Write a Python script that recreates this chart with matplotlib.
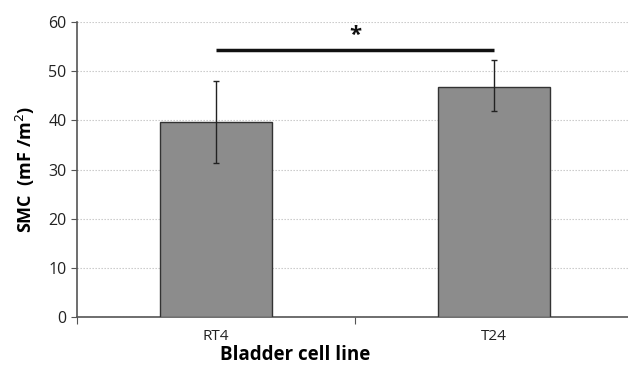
import matplotlib.pyplot as plt

# data
cell_lines = ['RT4', 'T24']
smc_mean = [39.6, 46.7]
err_low = [8.3, 4.8]
err_high = [8.4, 5.5]
y_ticks = [0, 10, 20, 30, 40, 50, 60]
sig_level = 54.3

plt.rcParams['font.family'] = ['Open Sans', 'DejaVu Sans']

fig = plt.figure(figsize=(6.28, 3.70), dpi=100)
ax = fig.add_axes([77 / 628, 1 - 317 / 370, 556 / 628, 295 / 370])

x = list(range(len(cell_lines)))
ax.bar(x, smc_mean, width=0.4, color='#8c8c8c', edgecolor='#333333', linewidth=1.0, zorder=3)
ax.errorbar(x, smc_mean, yerr=[err_low, err_high], fmt='none', ecolor='#222222',
            elinewidth=1.0, capsize=2.5, capthick=1.0, zorder=4)

# significance bar
ax.plot([x[0], x[1]], [sig_level, sig_level], color='#111111', lw=2.5, solid_capstyle='butt', zorder=4)
ax.text((x[0] + x[1]) / 2, sig_level + 0.8, '*', ha='center', va='bottom',
        fontsize=16, fontweight='bold', color='#111111')

ax.set_xlim(-0.5, 1.5)
ax.set_ylim(0, 60)
ax.set_yticks(y_ticks)
ax.tick_params(axis='y', labelsize=11.5, length=4, color='#555555', labelcolor='#222222')

# ticks between categories, labels at centers
ax.set_xticks([-0.5, 0.5, 1.5])
ax.set_xticklabels([])
ax.set_xticks(x, minor=True)
ax.set_xticklabels(cell_lines, minor=True)
ax.tick_params(axis='x', which='major', length=5, color='#555555')
ax.tick_params(axis='x', which='minor', length=0, labelsize=11, pad=9, labelcolor='#222222')

ax.yaxis.grid(True, linestyle=(0, (1.2, 1.5)), color='#c4c4c4', linewidth=0.8, zorder=0)
ax.set_axisbelow(True)

for s in ['top', 'right']:
    ax.spines[s].set_visible(False)
for s in ['left', 'bottom']:
    ax.spines[s].set_color('#555555')
    ax.spines[s].set_linewidth(1.2)

ax.set_ylabel('SMC  (mF /m$^{2}$)', fontsize=13, fontweight='bold', labelpad=8)
ax.set_xlabel('Bladder cell line', fontsize=13.5, fontweight='bold')
ax.xaxis.set_label_coords((295 - 77) / 556, -0.095)

fig.savefig('out.png', dpi=100)
